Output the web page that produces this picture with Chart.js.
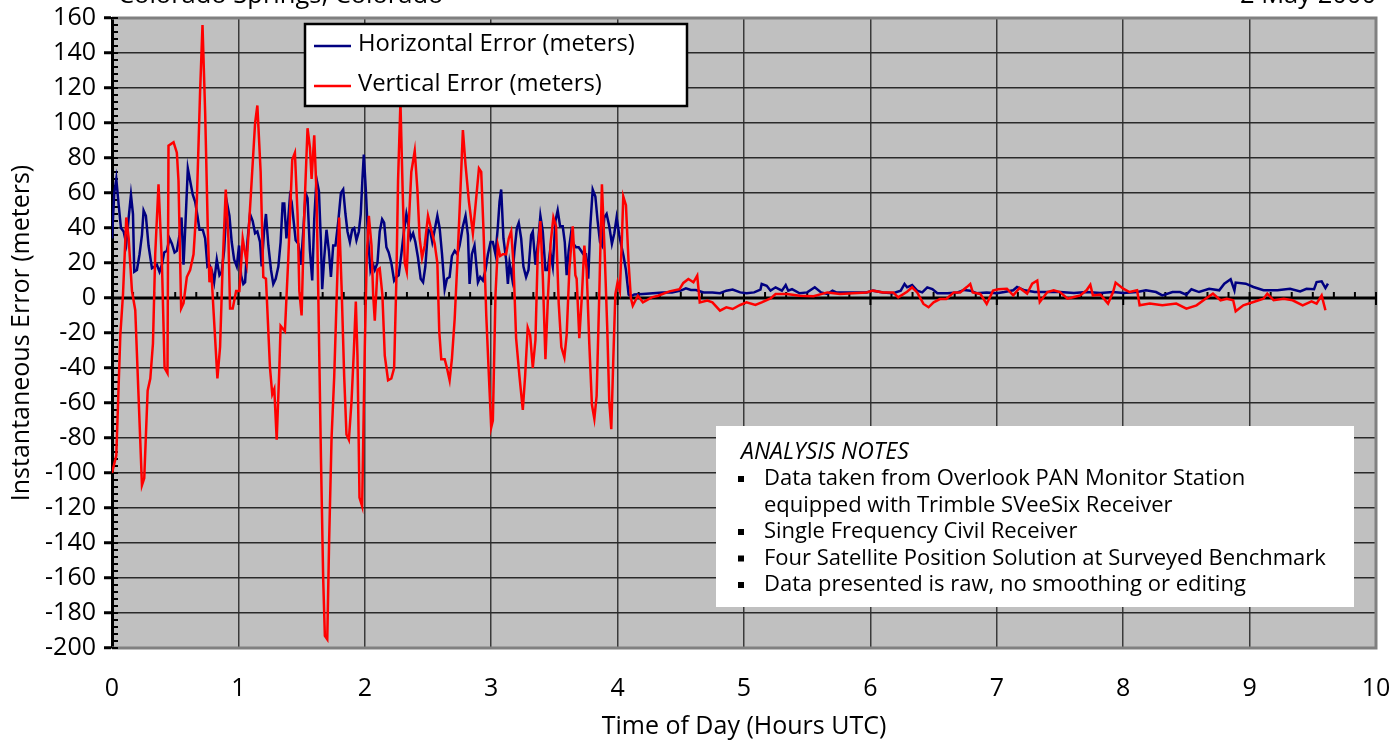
<!DOCTYPE html>
<html>
<head>
<meta charset="utf-8">
<title>GPS Instantaneous Error</title>
<script src="https://cdn.jsdelivr.net/npm/chart.js@4.4.1/dist/chart.umd.min.js"></script>
<style>
  html, body { margin: 0; padding: 0; background: #fff; }
  #wrap { position: relative; width: 1393px; height: 742px; }
</style>
</head>
<body>
<div id="wrap"><canvas id="myChart"></canvas></div>
<script>
// horizontal error (meters) vs time of day (hours UTC)
const hoursH = [0, .018, .034, .053, .071, .092, .113, .132, .15, .166, .176, .197, .218, .237, .25, .268, .289, .316, .337, .355,
  .376, .395, .413, .434, .455, .474, .495, .513, .534, .55, .566, .582, .6, .618, .639, .658, .676, .692, .718, .737,
  .755, .771, .789, .808, .829, .85, .868, .887, .908, .929, .947, .966, .987, 1.005, 1.021, 1.039, 1.053, 1.071, 1.092, 1.113,
  1.132, 1.15, 1.171, 1.184, 1.203, 1.218, 1.237, 1.258, 1.276, 1.295, 1.316, 1.334, 1.35, 1.363, 1.38, 1.395, 1.408, 1.421, 1.434, 1.453,
  1.474, 1.495, 1.513, 1.532, 1.547, 1.566, 1.584, 1.6, 1.618, 1.637, 1.653, 1.663, 1.679, 1.697, 1.716, 1.732, 1.75, 1.768, 1.789, 1.811,
  1.829, 1.847, 1.863, 1.882, 1.9, 1.916, 1.934, 1.953, 1.968, 1.982, 1.992, 2.008, 2.026, 2.045, 2.061, 2.079, 2.1, 2.118, 2.137, 2.153,
  2.171, 2.189, 2.21, 2.232, 2.25, 2.268, 2.289, 2.311, 2.329, 2.347, 2.363, 2.382, 2.4, 2.421, 2.442, 2.461, 2.479, 2.5, 2.518, 2.534,
  2.553, 2.574, 2.592, 2.611, 2.632, 2.65, 2.671, 2.689, 2.711, 2.732, 2.75, 2.776, 2.797, 2.816, 2.829, 2.847, 2.868, 2.895, 2.913, 2.934,
  2.955, 2.974, 2.995, 3.013, 3.034, 3.053, 3.066, 3.079, 3.097, 3.118, 3.132, 3.145, 3.166, 3.184, 3.203, 3.218, 3.237, 3.255, 3.276, 3.295,
  3.316, 3.329, 3.35, 3.371, 3.389, 3.408, 3.429, 3.447, 3.466, 3.487, 3.508, 3.526, 3.545, 3.566, 3.582, 3.597, 3.613, 3.632, 3.65, 3.671,
  3.692, 3.711, 3.729, 3.75, 3.768, 3.784, 3.803, 3.824, 3.842, 3.861, 3.876, 3.895, 3.913, 3.934, 3.955, 3.974, 3.992, 4.013, 4.032, 4.047,
  4.066, 4.087, 4.105, 4.132, 4.2, 4.28, 4.36, 4.43, 4.5, 4.54, 4.58, 4.62, 4.68, 4.75, 4.81, 4.86, 4.91, 4.97, 5.02, 5.08,
  5.13, 5.14, 5.18, 5.21, 5.25, 5.3, 5.33, 5.35, 5.38, 5.44, 5.5, 5.56, 5.61, 5.66, 5.7, 5.73, 5.81, 5.89, 5.97, 6.02,
  6.1, 6.18, 6.24, 6.27, 6.29, 6.33, 6.37, 6.41, 6.45, 6.49, 6.53, 6.61, 6.69, 6.74, 6.79, 6.84, 6.92, 7.0, 7.06, 7.13,
  7.16, 7.22, 7.3, 7.4, 7.5, 7.61, 7.71, 7.82, 7.92, 8.0, 8.11, 8.18, 8.26, 8.31, 8.39, 8.45, 8.5, 8.54, 8.6, 8.68,
  8.76, 8.8, 8.85, 8.88, 8.89, 8.97, 9.03, 9.11, 9.22, 9.32, 9.4, 9.45, 9.51, 9.53, 9.57, 9.6, 9.62];
const horizontalErr = [34, 60, 68, 53, 40, 38, 31, 46, 59, 48, 15, 16, 25, 36, 50, 47, 30, 17, 18, 19,
  15, 19, 26, 27, 34, 31, 26, 27, 36, 46, 19, 44, 74, 67, 59, 55, 47, 39, 39, 34,
  18, 19, 16, 9, 22, 13, 15, 27, 55, 47, 32, 22, 18, 30, 13, 8, 9, 32, 48, 44,
  37, 38, 32, 18, 38, 48, 30, 16, 8, 11, 18, 32, 54, 54, 34, 46, 58, 55, 46, 33,
  31, 19, 38, 60, 57, 27, 10, 45, 68, 61, 32, 5, 23, 39, 27, 12, 30, 30, 43, 60,
  62, 48, 38, 32, 39, 40, 33, 38, 48, 69, 82, 62, 34, 16, 20, 16, 20, 38, 45, 43,
  29, 26, 20, 10, 12, 13, 25, 39, 48, 41, 34, 37, 32, 23, 11, 9, 18, 39, 38, 32,
  39, 47, 40, 25, 5, 11, 12, 24, 27, 25, 30, 41, 47, 36, 8, 25, 30, 9, 12, 10,
  16, 25, 32, 32, 25, 41, 55, 62, 34, 22, 8, 20, 11, 27, 40, 43, 34, 18, 12, 16,
  36, 38, 19, 32, 47, 38, 16, 16, 27, 18, 44, 50, 41, 41, 32, 13, 27, 37, 31, 29,
  29, 27, 25, 25, 11, 41, 62, 58, 44, 32, 30, 46, 48, 41, 31, 37, 46, 36, 29, 24,
  16, 2, 1, 2, 2.3, 2.7, 3.2, 3.2, 4.2, 5.5, 4.6, 4.6, 3.2, 3.2, 2.7, 4.2, 4.8, 3.2, 2.7, 3.2,
  4.8, 8, 7, 4.2, 6.1, 4.2, 7.4, 4.2, 5.1, 2.7, 3.2, 6.1, 3.2, 2.3, 4.2, 3.2, 3.2, 3.2, 3.2, 4.2,
  3.2, 2.7, 4.2, 8, 6.1, 7.4, 4.2, 3.2, 6.1, 5.1, 2.7, 2.7, 3.2, 4.6, 4.2, 2.7, 3.2, 2.7, 3.4, 4.4,
  6.3, 4.4, 3.4, 3.4, 3.4, 2.9, 3.4, 2.9, 3.4, 2.9, 3.4, 4.4, 3.4, 1.5, 3.4, 3.4, 1.9, 5, 3.4, 5.3,
  4.4, 8.2, 10.7, 4.4, 8.8, 8.2, 6.3, 4.4, 4.4, 5.3, 3.8, 5.3, 5, 9.1, 9.5, 5.7, 8.2];

// vertical error (meters) vs time of day (hours UTC)
const hoursV = [0, .034, .066, .087, .113, .132, .158, .184, .21, .237, .255, .282, .303, .324, .342, .368, .395, .416, .439, .447,
  .487, .513, .526, .547, .566, .592, .618, .645, .671, .697, .716, .737, .758, .771, .784, .803, .834, .855, .876, .9,
  .921, .934, .955, .982, 1.008, 1.034, 1.066, 1.105, 1.132, 1.15, 1.176, 1.197, 1.218, 1.25, 1.268, 1.284, 1.303, 1.324, 1.334, 1.368,
  1.395, 1.426, 1.447, 1.468, 1.482, 1.5, 1.521, 1.547, 1.566, 1.579, 1.6, 1.618, 1.632, 1.653, 1.671, 1.684, 1.703, 1.718, 1.737, 1.758,
  1.776, 1.797, 1.816, 1.837, 1.855, 1.874, 1.895, 1.913, 1.929, 1.942, 1.958, 1.979, 2.0, 2.016, 2.032, 2.053, 2.066, 2.079, 2.1, 2.118,
  2.139, 2.158, 2.184, 2.21, 2.232, 2.25, 2.263, 2.282, 2.3, 2.316, 2.332, 2.347, 2.368, 2.395, 2.416, 2.434, 2.453, 2.474, 2.5, 2.526,
  2.553, 2.574, 2.589, 2.605, 2.632, 2.65, 2.671, 2.689, 2.711, 2.732, 2.753, 2.776, 2.797, 2.824, 2.855, 2.876, 2.903, 2.921, 2.939, 2.961,
  2.982, 3.0, 3.013, 3.034, 3.053, 3.071, 3.092, 3.118, 3.139, 3.158, 3.176, 3.197, 3.224, 3.25, 3.268, 3.289, 3.308, 3.329, 3.35, 3.368,
  3.389, 3.408, 3.429, 3.45, 3.471, 3.492, 3.513, 3.534, 3.555, 3.579, 3.597, 3.618, 3.645, 3.666, 3.676, 3.697, 3.718, 3.737, 3.755, 3.776,
  3.797, 3.816, 3.834, 3.855, 3.876, 3.897, 3.918, 3.934, 3.95, 3.966, 3.982, 4.0, 4.018, 4.034, 4.045, 4.066, 4.087, 4.105, 4.12, 4.16,
  4.2, 4.27, 4.32, 4.41, 4.49, 4.52, 4.56, 4.6, 4.63, 4.65, 4.71, 4.75, 4.81, 4.86, 4.91, 4.97, 5.02, 5.09, 5.14, 5.21,
  5.25, 5.34, 5.44, 5.55, 5.66, 5.76, 5.86, 5.97, 6.02, 6.1, 6.18, 6.22, 6.29, 6.33, 6.37, 6.42, 6.46, 6.5, 6.55, 6.6,
  6.66, 6.71, 6.76, 6.79, 6.81, 6.87, 6.92, 6.97, 7.01, 7.08, 7.13, 7.18, 7.24, 7.28, 7.32, 7.34, 7.4, 7.45, 7.5, 7.56,
  7.61, 7.66, 7.71, 7.74, 7.76, 7.82, 7.88, 7.92, 7.94, 8.0, 8.05, 8.11, 8.13, 8.21, 8.31, 8.42, 8.5, 8.58, 8.66, 8.71,
  8.77, 8.82, 8.87, 8.89, 8.95, 9.03, 9.11, 9.14, 9.19, 9.27, 9.34, 9.42, 9.49, 9.53, 9.57, 9.6];
const verticalErr = [-100, -90, -21, 2, 46, 34, 4, -7, -56, -107, -103, -53, -46, -26, 25, 65, 20, -40, -43, 87,
  89, 83, 67, -6, -3, 12, 16, 25, 55, 118, 156, 106, 39, 9, 18, -7, -46, -28, 20, 62,
  34, -6, -6, 4, 4, 34, 20, 67, 100, 110, 72, 12, 11, -40, -55, -52, -81, -40, -16, -19,
  23, 79, 83, 48, 4, -10, 48, 97, 86, 68, 93, 60, 2, -91, -161, -193, -195, -138, -80, -45,
  -3, 46, 7, -45, -78, -81, -59, -31, -2, -33, -114, -119, -28, 25, 47, 30, 2, -13, 16, 17,
  2, -33, -47, -46, -40, 11, 67, 112, 60, 20, 15, 41, 72, 84, 62, 34, 23, 30, 47, 39,
  31, 20, -19, -35, -35, -40, -47, -35, -12, 20, 55, 96, 76, 55, 37, 53, 74, 72, 39, -10,
  -45, -74, -70, 2, 30, 24, 25, 25, 34, 38, 20, -23, -45, -64, -45, -17, -21, -40, -24, 25,
  44, 13, -35, 2, 32, 46, 41, -3, -28, -34, -21, 16, 41, 13, 11, -23, 2, 30, 16, -26,
  -61, -69, -56, 2, 65, 27, -17, -59, -75, -35, 2, 9, 4, 34, 58, 53, 20, 0, -4.4, 1.3,
  -2.5, 0.4, 1.3, 3.8, 5, 8.6, 10.9, 9, 12.8, -2.5, -1.5, -2.5, -7.2, -5.3, -6.3, -4, -2.5, -4, -2.5, -0.2,
  2.3, 2.3, 1.3, 1, 3.2, 2.3, 2.7, 3.2, 4.2, 3.2, 3.2, 0.4, 3.6, 6.1, 3.2, -3.4, -5.3, -2.5, -0.6, -0.6,
  3.2, 3.2, 6.1, 8, 3.2, 2.3, -3.4, 4.2, 5, 5.3, 1.5, 5.7, 2.5, 8.2, 10, -2.3, 3.4, 4.4, 3.4, -0.4,
  0.6, 1.5, 4.4, 7.6, 1.5, 1.9, -3.2, 3.4, 8.8, 5.3, 3.4, 4.4, -4.2, -3.2, -4.2, -3.2, -6.1, -4.2, 0, 2.5,
  -1.3, -0.4, -1.3, -7.6, -4.2, -2.3, -0.4, 2.5, -1.3, -0.4, -1.3, -4.2, -1.9, -3.2, 1.5, -7];

const seriesLabels = ["Horizontal Error (meters)", "Vertical Error (meters)"];
const seriesColors = ["#000080", "#ff0000"];
const noteLines = [
  ["Data taken from Overlook PAN Monitor Station", "equipped with Trimble SVeeSix Receiver"],
  ["Single Frequency Civil Receiver"],
  ["Four Satellite Position Solution at Surveyed Benchmark"],
  ["Data presented is raw, no smoothing or editing"],
];

const FONT = '"Open Sans", "DejaVu Sans", sans-serif';

function toPoints(xs, ys) {
  return xs.map(function (x, i) { return { x: x, y: ys[i] }; });
}

const decor = {
  id: "decor",
  beforeDraw: function (chart) {
    const ctx = chart.ctx;
    const a = chart.chartArea;
    ctx.save();
    ctx.fillStyle = "#c0c0c0";
    ctx.fillRect(a.left, a.top, a.right - a.left, a.bottom - a.top);
    // title line, mostly cut off at the top of the page
    ctx.fillStyle = "#000";
    ctx.font = "25.5px " + FONT;
    ctx.textBaseline = "alphabetic";
    ctx.textAlign = "left";
    ctx.fillText("Colorado Springs, Colorado", 118, 3);
    ctx.textAlign = "right";
    ctx.fillText("2 May 2000", 1376, 3);
    ctx.restore();
  },
  beforeDatasetsDraw: function (chart) {
    const ctx = chart.ctx;
    const a = chart.chartArea;
    const x = chart.scales.x;
    const y = chart.scales.y;
    const y0 = y.getPixelForValue(0);
    ctx.save();
    // plot border
    ctx.strokeStyle = "#808080";
    ctx.lineWidth = 3;
    ctx.beginPath();
    ctx.moveTo(a.left, a.top);
    ctx.lineTo(a.right, a.top);
    ctx.lineTo(a.right, a.bottom);
    ctx.lineTo(a.left, a.bottom);
    ctx.stroke();
    // zero line with 10 minute ticks
    ctx.strokeStyle = "#000";
    ctx.lineWidth = 3;
    ctx.beginPath();
    ctx.moveTo(a.left, y0);
    ctx.lineTo(a.right, y0);
    ctx.stroke();
    ctx.lineWidth = 2;
    for (let i = 1; i <= 60; i++) {
      const px = x.getPixelForValue(i / 6);
      ctx.beginPath();
      ctx.moveTo(px, y0 - 6);
      ctx.lineTo(px, i % 6 === 0 ? y0 + 7 : y0);
      ctx.stroke();
    }
    // minor ticks on the y axis
    for (let v = -200; v <= 160; v += 4) {
      const py = y.getPixelForValue(v);
      ctx.beginPath();
      ctx.moveTo(a.left, py);
      ctx.lineTo(a.left + 6, py);
      ctx.stroke();
    }
    ctx.restore();
  },
  afterDraw: function (chart) {
    const ctx = chart.ctx;
    ctx.save();
    // legend
    ctx.fillStyle = "#fff";
    ctx.fillRect(305, 24, 382, 82);
    ctx.strokeStyle = "#000";
    ctx.lineWidth = 2.5;
    ctx.strokeRect(305, 24, 382, 82);
    ctx.font = "23.8px " + FONT;
    ctx.textBaseline = "middle";
    ctx.textAlign = "left";
    const rows = [44, 84];
    for (let i = 0; i < 2; i++) {
      ctx.strokeStyle = seriesColors[i];
      ctx.lineWidth = 2.5;
      ctx.beginPath();
      ctx.moveTo(314, rows[i] + 2);
      ctx.lineTo(351, rows[i] + 2);
      ctx.stroke();
      ctx.fillStyle = "#000";
      ctx.fillText(seriesLabels[i], 358, rows[i]);
    }
    // analysis notes box
    ctx.fillStyle = "#fff";
    ctx.fillRect(716, 426, 638, 181);
    ctx.fillStyle = "#000";
    ctx.font = "italic 23px " + FONT;
    ctx.fillText("ANALYSIS NOTES", 741, 452);
    ctx.font = "22px " + FONT;
    let ly = 479;
    noteLines.forEach(function (lines) {
      ctx.fillRect(738, ly - 3, 6, 6);
      lines.forEach(function (t) {
        ctx.fillText(t, 764, ly);
        ly += 26.5;
      });
    });
    ctx.restore();
  },
};

new Chart("myChart", {
  type: "line",
  data: {
    datasets: [
      {
        label: seriesLabels[0],
        data: toPoints(hoursH, horizontalErr),
        borderColor: seriesColors[0],
        borderWidth: 2.5,
        pointRadius: 0,
        tension: 0,
        order: 1,
      },
      {
        label: seriesLabels[1],
        data: toPoints(hoursV, verticalErr),
        borderColor: seriesColors[1],
        borderWidth: 2.5,
        pointRadius: 0,
        tension: 0,
        order: 0,
      },
    ],
  },
  options: {
    responsive: true,
    maintainAspectRatio: false,
    animation: false,
    events: [],
    layout: { padding: { left: 0, top: 18, right: 17, bottom: 0 } },
    plugins: {
      legend: { display: false },
      tooltip: { enabled: false },
    },
    scales: {
      x: {
        type: "linear",
        min: 0,
        max: 10,
        afterFit: function (scale) {
          scale.height = 94;
          scale.paddingLeft = 0;
          scale.paddingRight = 0;
        },
        ticks: { stepSize: 1, color: "#000", font: { family: FONT, size: 25 }, padding: 26, maxRotation: 0 },
        grid: { color: "#3a3a3a", lineWidth: 1.5, drawTicks: false },
        border: { display: false },
        title: {
          display: true,
          text: "Time of Day (Hours UTC)",
          color: "#000",
          font: { family: FONT, size: 25 },
          padding: { top: 0, bottom: 0 },
        },
      },
      y: {
        min: -200,
        max: 160,
        afterFit: function (scale) {
          scale.width = 112;
          scale.paddingTop = 0;
          scale.paddingBottom = 0;
        },
        ticks: { stepSize: 20, color: "#000", font: { family: FONT, size: 25 }, padding: 8 },
        grid: { color: "#2a2a2a", lineWidth: 1.5, tickColor: "#000", tickWidth: 3, tickLength: 8 },
        border: { color: "#000", width: 3 },
        title: {
          display: true,
          text: "Instantaneous Error (meters)",
          color: "#000",
          font: { family: FONT, size: 25 },
          padding: { top: 7, bottom: 0 },
        },
      },
    },
  },
  plugins: [decor],
});
</script>
</body>
</html>
